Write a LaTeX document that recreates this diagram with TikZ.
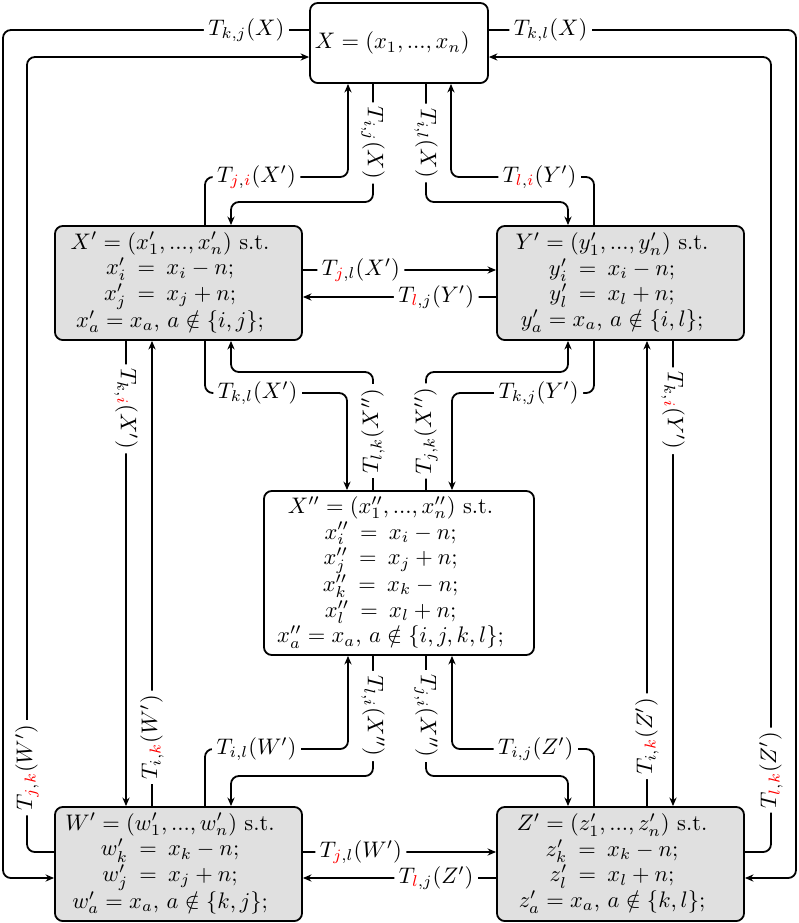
\documentclass[tikz,border=0pt]{standalone}
\usetikzlibrary{arrows.meta,calc}
\newcommand{\rd}[1]{{\color{red}#1}}
\newcommand{\eqs}{\kern5pt{=}\kern5pt}
\newcommand{\rows}[1]{\begin{tabular}{@{}c@{}}#1\end{tabular}\hspace*{7.5pt}}
\begin{document}
\begin{tikzpicture}[x=0.4444pt,y=-0.4444pt,
  box/.style={draw,line width=0.8pt,rounded corners=3.5pt,inner sep=0pt,font=\fontsize{10}{11.4}\selectfont},
  gbox/.style={box,fill=black!12},
  con/.style={line width=0.8pt,rounded corners=3.5pt,-{Stealth[length=3.8pt,width=3.2pt]}},
  lab/.style={fill=white,inner sep=2pt}]
\useasboundingbox (0,0) rectangle (799,923);

\node[box,minimum width=79.1pt,minimum height=35.6pt] (X) at (399,43) {$X=(x_1,...,x_n)$\hspace*{6pt}};
\node[gbox,minimum width=109.8pt,minimum height=50.7pt] (Xp) at (178.5,283)
  {\rows{$X'=(x'_1,...,x'_n)$ s.t.\\ $x'_i\eqs x_i-n;$\\ $x'_j\eqs x_j+n;$\\ $x'_a=x_a$, $a\notin\{i,j\};$}};
\node[gbox,minimum width=109.8pt,minimum height=50.7pt] (Yp) at (620.5,283)
  {\rows{$Y'=(y'_1,...,y'_n)$ s.t.\\ $y'_i\eqs x_i-n;$\\ $y'_l\eqs x_l+n;$\\ $y'_a=x_a$, $a\notin\{i,l\};$}};
\node[box,fill=white,minimum width=120pt,minimum height=72.9pt] (Xpp) at (399,573)
  {\rows{$X''=(x''_1,...,x''_n)$ s.t.\\ $x''_i\eqs x_i-n;$\\ $x''_j\eqs x_j+n;$\\ $x''_k\eqs x_k-n;$\\ $x''_l\eqs x_l+n;$\\ $x''_a=x_a$, $a\notin\{i,j,k,l\};$}};
\node[gbox,minimum width=109.8pt,minimum height=50.7pt] (Wp) at (178.5,864)
  {\rows{$W'=(w'_1,...,w'_n)$ s.t.\\ $w'_k\eqs x_k-n;$\\ $w'_j\eqs x_j+n;$\\ $w'_a=x_a$, $a\notin\{k,j\};$}};
\node[gbox,minimum width=109.8pt,minimum height=50.7pt] (Zp) at (620.5,864)
  {\rows{$Z'=(z'_1,...,z'_n)$ s.t.\\ $z'_k\eqs x_k-n;$\\ $z'_l\eqs x_l+n;$\\ $z'_a=x_a$, $a\notin\{k,l\};$}};

% outer loops
\draw[con] (X.west |- 0,30) -- node[lab,pos=0.205] (l1) {$T_{k,j}(X)$} (3,30) -- (3,878) -- (Wp.west |- 0,878);
\draw[con] (Wp.west |- 0,852) -- (27,852) -- node[lab,rotate=90,pos=0.106] (l2) {$T_{\rd{j},\rd{k}}(W')$} (27,57) -- (X.west |- 0,57);
\draw[con] (X.east |- 0,30) -- node[lab,pos=0.201] (l3) {$T_{k,l}(X)$} (796,30) -- (796,878) -- (Zp.east |- 0,878);
\draw[con] (Zp.east |- 0,852) -- (771,852) -- node[lab,rotate=90,pos=0.103] (l4) {$T_{\rd{l},\rd{k}}(Z')$} (771,57) -- (X.east |- 0,57);

% X <-> X', Y'
\draw[con] (Xp.north -| 205,0) -- (205,177) -- node[lab,pos=0.36] (l5) {$T_{\rd{j},\rd{i}}(X')$} (348,177) -- (X.south -| 348,0);
\draw[con] (X.south -| 373,0) -- node[lab,rotate=-90] (l6) {$T_{i,j}(X)$} (373,202) -- (231,202) -- (Xp.north -| 231,0);
\draw[con] (X.south -| 426,0) -- node[lab,rotate=-90] (l7) {$T_{i,l}(X)$} (426,202) -- (568,202) -- (Yp.north -| 568,0);
\draw[con] (Yp.north -| 594,0) -- (594,177) -- node[lab,pos=0.38] (l8) {$T_{\rd{l},\rd{i}}(Y')$} (451,177) -- (X.south -| 451,0);

% X' <-> Y'
\draw[con] (Xp.east |- 0,270) -- node[lab,pos=0.30] (l9) {$T_{\rd{j},l}(X')$} (Yp.west |- 0,270);
\draw[con] (Yp.west |- 0,297) -- node[lab,pos=0.31] (l10) {$T_{\rd{l},j}(Y')$} (Xp.east |- 0,297);

% X' <-> W', Y' <-> Z'
\draw[con] (Xp.south -| 126,0) -- node[lab,rotate=-90,pos=0.146] (l11) {$T_{k,\rd{i}}(X')$} (Wp.north -| 126,0);
\draw[con] (Wp.north -| 152,0) -- node[lab,rotate=90,pos=0.148] (l12) {$T_{i,\rd{k}}(W')$} (Xp.south -| 152,0);
\draw[con] (Yp.south -| 673,0) -- node[lab,rotate=-90,pos=0.15] (l17) {$T_{k,\rd{i}}(Y')$} (Zp.north -| 673,0);
\draw[con] (Zp.north -| 647,0) -- node[lab,rotate=90,pos=0.15] (l18) {$T_{i,\rd{k}}(Z')$} (Yp.south -| 647,0);

% X', Y' <-> X''
\draw[con] (Xp.south -| 205,0) -- (205,393) -- node[lab,pos=0.37] (l13) {$T_{k,l}(X')$} (347,393) -- (Xpp.north -| 347,0);
\draw[con] (Xpp.north -| 373,0) -- node[lab,rotate=90] (l14) {$T_{l,k}(X'')$} (373,372) -- (231,372) -- (Xp.south -| 231,0);
\draw[con] (Xpp.north -| 426,0) -- node[lab,rotate=90] (l15) {$T_{j,k}(X'')$} (426,372) -- (568,372) -- (Yp.south -| 568,0);
\draw[con] (Yp.south -| 594,0) -- (594,393) -- node[lab,pos=0.39] (l16) {$T_{k,j}(Y')$} (452,393) -- (Xpp.north -| 452,0);

% X'' <-> W', Z'
\draw[con] (Xpp.south -| 373,0) -- node[lab,rotate=-90] (l19) {$T_{l,i}(X'')$} (373,776) -- (231,776) -- (Wp.north -| 231,0);
\draw[con] (Wp.north -| 205,0) -- (205,749) -- node[lab,pos=0.36] (l20) {$T_{i,l}(W')$} (348,749) -- (Xpp.south -| 348,0);
\draw[con] (Xpp.south -| 426,0) -- node[lab,rotate=-90] (l21) {$T_{j,i}(X'')$} (426,776) -- (568,776) -- (Zp.north -| 568,0);
\draw[con] (Zp.north -| 594,0) -- (594,749) -- node[lab,pos=0.41] (l22) {$T_{i,j}(Z')$} (452,749) -- (Xpp.south -| 452,0);

% W' <-> Z'
\draw[con] (Wp.east |- 0,852) -- node[lab,pos=0.30] (l23) {$T_{\rd{j},l}(W')$} (Zp.west |- 0,852);
\draw[con] (Zp.west |- 0,878) -- node[lab,pos=0.31] (l24) {$T_{\rd{l},j}(Z')$} (Wp.east |- 0,878);
\end{tikzpicture}
\end{document}
